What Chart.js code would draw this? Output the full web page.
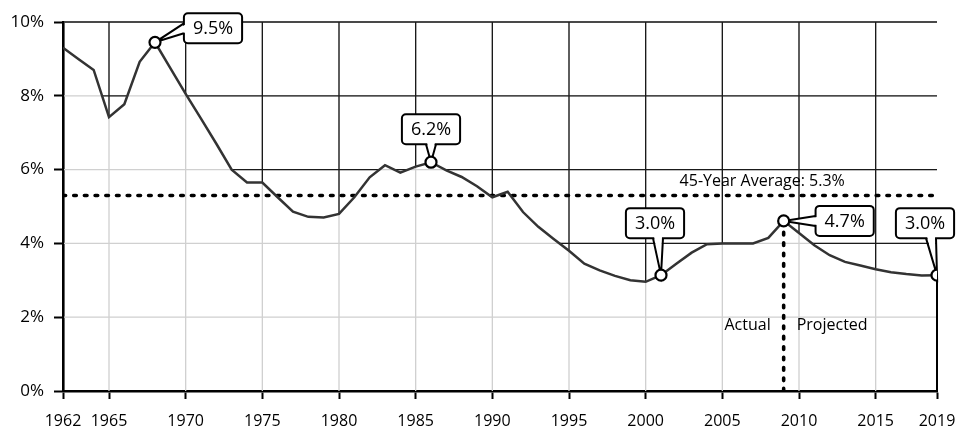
<!DOCTYPE html>
<html>
<head>
<meta charset="utf-8">
<script src="https://cdn.jsdelivr.net/npm/chart.js@4.4.1/dist/chart.umd.min.js"></script>
<style>
  html, body { margin: 0; padding: 0; background: #fff; }
  #wrap { width: 957px; height: 431px; position: relative; }
</style>
</head>
<body>
<div id="wrap"><canvas id="chart"></canvas></div>
<script>
// Annual rate, 1962-2019 (actual through 2009, projected after)
const years = [
  1962, 1963, 1964, 1965, 1966, 1967, 1968, 1969, 1970, 1971,
  1972, 1973, 1974, 1975, 1976, 1977, 1978, 1979, 1980, 1981,
  1982, 1983, 1984, 1985, 1986, 1987, 1988, 1989, 1990, 1991,
  1992, 1993, 1994, 1995, 1996, 1997, 1998, 1999, 2000, 2001,
  2002, 2003, 2004, 2005, 2006, 2007, 2008, 2009, 2010, 2011,
  2012, 2013, 2014, 2015, 2016, 2017, 2018, 2019,
];
const rates = [
  9.30, 9.00, 8.70, 7.42, 7.77, 8.92, 9.45, 8.75, 8.05, 7.38,
  6.70, 6.00, 5.65, 5.65, 5.25, 4.86, 4.72, 4.70, 4.80, 5.25,
  5.79, 6.12, 5.92, 6.08, 6.20, 5.98, 5.80, 5.55, 5.25, 5.40,
  4.85, 4.45, 4.12, 3.80, 3.45, 3.27, 3.12, 3.00, 2.96, 3.14,
  3.45, 3.75, 3.98, 4.00, 4.00, 4.00, 4.15, 4.61, 4.28, 3.95,
  3.68, 3.50, 3.40, 3.30, 3.22, 3.17, 3.13, 3.14,
];
const highlightYears  = [1968, 1986, 2001, 2009, 2019];
const highlightLabels = ['9.5%', '6.2%', '3.0%', '4.7%', '3.0%'];
const xTicks = [1962, 1965, 1970, 1975, 1980, 1985, 1990, 1995, 2000, 2005, 2010, 2015, 2019];
const yTicks = [0, 2, 4, 6, 8, 10];
const average = 5.3;
const averageLabel = '45-Year Average: 5.3%';
const splitYear = 2009;

const colors = {
  text:      '#000',
  line:      '#333',
  gridDark:  '#1a1a1a',
  gridLight: '#d0d0d0',
};
const FONT = '"Open Sans", "Noto Sans", sans-serif';

// where each callout box sits relative to its point (px)
const calloutOffsets = [[58, -14], [0, -33], [-6, -52], [61, 0], [-12, -52]];

function drawGridLines(chart, color) {
  const { ctx, chartArea: a, scales: { x, y } } = chart;
  ctx.strokeStyle = color;
  ctx.lineWidth = 1.3;
  ctx.beginPath();
  xTicks.filter(v => v > x.min && v < x.max).forEach(v => {
    const px = x.getPixelForValue(v);
    ctx.moveTo(px, a.top);
    ctx.lineTo(px, a.bottom);
  });
  yTicks.filter(v => v > y.min).forEach(v => {
    const py = y.getPixelForValue(v);
    ctx.moveTo(a.left + 1, py);
    ctx.lineTo(a.right, py);
  });
  ctx.stroke();
}

function roundRect(ctx, x, y, w, h, r) {
  ctx.beginPath();
  ctx.moveTo(x + r, y);
  ctx.arcTo(x + w, y, x + w, y + h, r);
  ctx.arcTo(x + w, y + h, x, y + h, r);
  ctx.arcTo(x, y + h, x, y, r);
  ctx.arcTo(x, y, x + w, y, r);
  ctx.closePath();
}

function drawCallout(ctx, px, py, text, dx, dy) {
  ctx.font = `18px ${FONT}`;
  const w = ctx.measureText(text).width + 18;
  const h = 30;
  const cx = px + dx, cy = py + dy;
  const bx = cx - w / 2, by = cy - h / 2;

  roundRect(ctx, bx, by, w, h, 4);
  ctx.fillStyle = '#fff';
  ctx.fill();
  ctx.lineWidth = 2;
  ctx.strokeStyle = '#000';
  ctx.stroke();

  // tail: base sits on the box edge that faces the point
  let b1, b2;
  if (Math.abs(dx) > Math.abs(dy)) {
    const ex = dx > 0 ? bx : bx + w;
    const inset = dx > 0 ? 2 : -2;
    b1 = [ex, cy - 5]; b2 = [ex, cy + 5];
    ctx.beginPath();
    ctx.moveTo(ex + inset, cy - 4); ctx.lineTo(px, py); ctx.lineTo(ex + inset, cy + 4);
  } else {
    const ey = dy < 0 ? by + h : by;
    const inset = dy < 0 ? -2 : 2;
    const tx = cx + (px - cx) * 0.5;
    b1 = [tx - 5, ey]; b2 = [tx + 5, ey];
    ctx.beginPath();
    ctx.moveTo(tx - 4, ey + inset); ctx.lineTo(px, py); ctx.lineTo(tx + 4, ey + inset);
  }
  ctx.closePath();
  ctx.fillStyle = '#fff';
  ctx.fill();
  ctx.beginPath();
  ctx.moveTo(b1[0], b1[1]); ctx.lineTo(px, py); ctx.lineTo(b2[0], b2[1]);
  ctx.lineWidth = 2;
  ctx.stroke();

  ctx.fillStyle = colors.text;
  ctx.textAlign = 'center';
  ctx.textBaseline = 'middle';
  ctx.fillText(text, cx, cy + 1);
}

const backdrop = {
  id: 'backdrop',
  beforeDatasetsDraw(chart) {
    const { ctx, chartArea: a, scales: { x, y } } = chart;
    const pts = chart.getDatasetMeta(0).data;
    const last = pts[pts.length - 1];

    ctx.save();
    drawGridLines(chart, colors.gridLight);
    // region above the curve keeps the dark grid
    ctx.beginPath();
    ctx.moveTo(pts[0].x, a.top - 10);
    pts.forEach(p => ctx.lineTo(p.x, p.y));
    ctx.lineTo(last.x, a.top - 10);
    ctx.closePath();
    ctx.clip();
    drawGridLines(chart, colors.gridDark);
    ctx.restore();

    // closing edge of the series at the right
    ctx.save();
    ctx.strokeStyle = '#000';
    ctx.lineWidth = 2;
    ctx.beginPath();
    ctx.moveTo(last.x, last.y);
    ctx.lineTo(last.x, a.bottom);
    ctx.stroke();

    // texts
    ctx.fillStyle = colors.text;
    ctx.font = `16px ${FONT}`;
    ctx.textBaseline = 'middle';
    ctx.textAlign = 'center';
    ctx.fillText(averageLabel, x.getPixelForValue(2007.6), y.getPixelForValue(average) - 14);
    const sx = x.getPixelForValue(splitYear);
    const ty = y.getPixelForValue(1.77);
    ctx.textAlign = 'right';
    ctx.fillText('Actual', sx - 13, ty);
    ctx.textAlign = 'left';
    ctx.fillText('Projected', sx + 13, ty);

    // callouts
    highlightYears.forEach((yr, k) => {
      const p = pts[years.indexOf(yr)];
      drawCallout(ctx, p.x, p.y, highlightLabels[k], calloutOffsets[k][0], calloutOffsets[k][1]);
    });
    ctx.restore();
  },
};

function renderChart() {
  const ctx = document.getElementById('chart').getContext('2d');
  const isHighlight = (c) => highlightYears.includes(years[c.dataIndex]);

  new Chart(ctx, {
    type: 'line',
    data: {
      datasets: [
        {
          label: 'Rate',
          data: years.map((yr, i) => ({ x: yr, y: rates[i] })),
          borderColor: colors.line,
          borderWidth: 2.5,
          tension: 0,
          pointRadius: (c) => (isHighlight(c) ? 5.5 : 0),
          pointBackgroundColor: '#fff',
          pointBorderColor: '#000',
          pointBorderWidth: 2.2,
        },
        {
          label: 'Average',
          data: [{ x: years[0], y: average }, { x: years[years.length - 1], y: average }],
          borderColor: '#000',
          borderWidth: 3.6,
          borderDash: [2.6, 8.1],
          borderCapStyle: 'round',
          pointRadius: 0,
        },
        {
          label: 'Split',
          data: [{ x: splitYear, y: 0 }, { x: splitYear, y: rates[years.indexOf(splitYear)] }],
          borderColor: '#000',
          borderWidth: 3.6,
          borderDash: [2.6, 7.8],
          borderCapStyle: 'round',
          pointRadius: 0,
        },
      ],
    },
    options: {
      responsive: true,
      maintainAspectRatio: false,
      animation: false,
      layout: { padding: { top: 22, right: 20, left: 0, bottom: 0 } },
      plugins: { legend: { display: false }, tooltip: { enabled: false } },
      scales: {
        x: {
          type: 'linear',
          min: xTicks[0],
          max: xTicks[xTicks.length - 1],
          afterBuildTicks: (s) => { s.ticks = xTicks.map(v => ({ value: v })); },
          afterFit: (s) => { s.height = 40; s.paddingLeft = 0; s.paddingRight = 0; },
          ticks: {
            autoSkip: false, maxRotation: 0, padding: 13,
            color: colors.text, font: { family: FONT, size: 16 },
            callback: (v) => String(v),
          },
          grid: { drawOnChartArea: false, drawTicks: true, tickLength: 8, tickWidth: 2, tickColor: '#000' },
          border: { display: true, color: '#000', width: 2.6 },
        },
        y: {
          min: yTicks[0],
          max: yTicks[yTicks.length - 1],
          afterBuildTicks: (s) => { s.ticks = yTicks.map(v => ({ value: v })); },
          afterFit: (s) => { s.width = 63; s.paddingTop = 0; s.paddingBottom = 0; },
          ticks: {
            padding: 10,
            color: colors.text, font: { family: FONT, size: 17 },
            callback: (v) => v + '%',
          },
          grid: { drawOnChartArea: false, drawTicks: true, tickLength: 9, tickWidth: 2, tickColor: '#000' },
          border: { display: true, color: '#000', width: 2.6 },
        },
      },
    },
    plugins: [backdrop],
  });
}

document.addEventListener('DOMContentLoaded', renderChart);
</script>
</body>
</html>
